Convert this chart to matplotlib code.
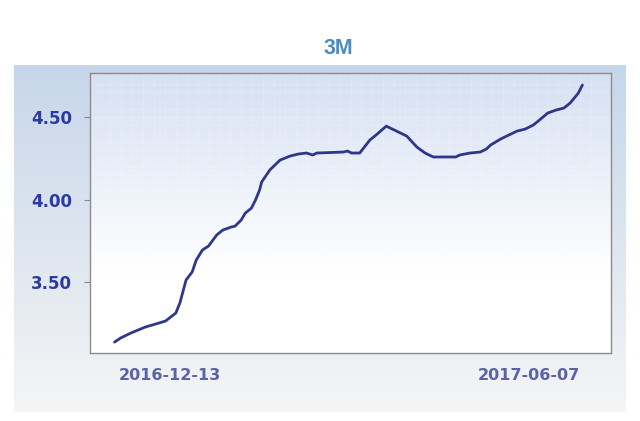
import numpy as np
import pandas as pd
import matplotlib
matplotlib.use("Agg")
import matplotlib.pyplot as plt
import matplotlib.dates as mdates

# ── data ──────────────────────────────────────────────────────────────────────
dates = [
    "2016-11-16", "2016-11-19", "2016-11-24", "2016-12-01", "2016-12-06",
    "2016-12-11", "2016-12-16", "2016-12-18", "2016-12-21", "2016-12-24",
    "2016-12-26", "2016-12-29", "2017-01-01", "2017-01-05", "2017-01-08",
    "2017-01-12", "2017-01-14", "2017-01-17", "2017-01-19", "2017-01-22",
    "2017-01-24", "2017-01-26", "2017-01-27", "2017-01-31", "2017-02-05",
    "2017-02-10", "2017-02-14", "2017-02-18", "2017-02-21", "2017-02-23",
    "2017-03-08", "2017-03-10", "2017-03-12", "2017-03-16", "2017-03-21",
    "2017-03-24", "2017-03-29", "2017-04-05", "2017-04-08", "2017-04-13",
    "2017-04-17", "2017-04-21", "2017-05-02", "2017-05-04", "2017-05-09",
    "2017-05-14", "2017-05-17", "2017-05-19", "2017-05-24", "2017-05-29",
    "2017-06-01", "2017-06-05", "2017-06-09", "2017-06-12", "2017-06-16",
    "2017-06-20", "2017-06-24", "2017-06-27", "2017-07-01", "2017-07-03",
]
rates = [
    3.136, 3.161, 3.191, 3.227, 3.245,
    3.264, 3.312, 3.373, 3.512, 3.561,
    3.633, 3.694, 3.718, 3.785, 3.815,
    3.833, 3.839, 3.876, 3.918, 3.948,
    3.997, 4.058, 4.106, 4.179, 4.239,
    4.264, 4.276, 4.282, 4.270, 4.282,
    4.288, 4.294, 4.282, 4.282, 4.361,
    4.391, 4.445, 4.403, 4.385, 4.318,
    4.282, 4.258, 4.258, 4.270, 4.282,
    4.288, 4.306, 4.330, 4.367, 4.397,
    4.415, 4.427, 4.452, 4.482, 4.524,
    4.542, 4.555, 4.585, 4.645, 4.694,
]
y_ticks = [3.50, 4.00, 4.50]
x_ticks = ["2016-12-13", "2017-06-07"]
title = "3M"

W, H = 640, 421
fig = plt.figure(figsize=(W / 100, H / 100), dpi=100)
fig.patch.set_facecolor("white")

# outer panel with vertical gradient
bg = fig.add_axes([14 / W, (H - 412) / H, 612 / W, 347 / H], zorder=0)
top = np.array([0.78, 0.84, 0.92])
bot = np.array([0.96, 0.96, 0.96])
t = np.linspace(0, 1, 256)[:, None]
grad = (top * (1 - t) + bot * t)[:, None, :]
bg.imshow(grad, aspect="auto", extent=[0, 1, 0, 1])
bg.set_xlim(0, 1); bg.set_ylim(0, 1)
bg.axis("off")

# plot area
ax = fig.add_axes([90 / W, (H - 353) / H, 521 / W, 280 / H], zorder=1)
x = mdates.date2num(pd.to_datetime(dates))
x0 = mdates.date2num(pd.Timestamp("2016-11-04"))
x1 = mdates.date2num(pd.Timestamp("2017-07-17"))
y0, y1 = 3.070, 4.767

top_in = np.array([0.84, 0.88, 0.95])
bot_in = np.array([1.0, 1.0, 1.0])
t2 = np.linspace(0, 1, 256)[:, None]
t2 = np.clip(t2 * 1.4, 0, 1)
grad_in = (top_in * (1 - t2) + bot_in * t2)[:, None, :]
ax.imshow(grad_in, aspect="auto", extent=[x0, x1, y0, y1], zorder=0)

# faint dotted grid
for gx in np.linspace(x0 + 10, x1 - 10, 45):
    ax.axvline(gx, color="white", lw=0.6, ls=(0, (1, 2)), alpha=0.5, zorder=1)
for gy in np.arange(3.10, 4.75, 0.05):
    ax.axhline(gy, color="white", lw=0.6, ls=(0, (1, 2)), alpha=0.5, zorder=1)

ax.plot(x, rates, color="#2e378a", lw=2.0, zorder=3, solid_capstyle="round")

ax.set_xlim(x0, x1)
ax.set_ylim(y0, y1)
ax.set_yticks(y_ticks)
ax.set_yticklabels([f"{v:.2f}" for v in y_ticks])
ax.set_xticks(mdates.date2num(pd.to_datetime(x_ticks)))
ax.set_xticklabels(x_ticks)

ax.tick_params(axis="y", length=4, width=0.8, color="#888888", pad=9,
               labelsize=12, labelcolor="#2c3aa4")
ax.tick_params(axis="x", length=0, pad=11, labelsize=11.5, labelcolor="#5a62a8")
for lab in ax.get_yticklabels() + ax.get_xticklabels():
    lab.set_fontfamily("DejaVu Sans")
    lab.set_fontweight("bold")

for sp in ax.spines.values():
    sp.set_color("#8c8c8c")
    sp.set_linewidth(1.0)

fig.text(338 / W, 1 - 48.5 / H, title, ha="center", va="center",
         fontsize=15.5, fontweight="bold", color="#4d8cbf",
         fontfamily="Liberation Sans")

fig.savefig("out.png", dpi=100)
